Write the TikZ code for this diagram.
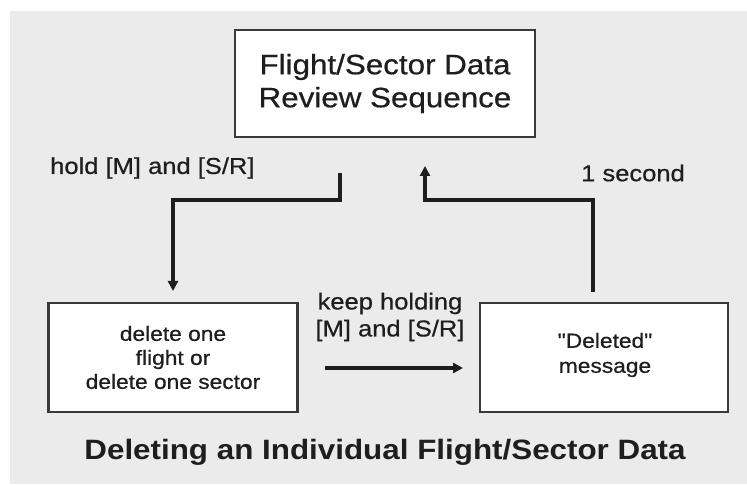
\documentclass[tikz,border=0pt]{standalone}
\usepackage{fontspec}
\setmainfont{Liberation Sans}
\newfontfamily\labfont[FakeStretch=1.11,FakeBold=0.6]{Liberation Sans}
\newfontfamily\bigfont[FakeStretch=1.12,FakeBold=0.6]{Liberation Sans}
\newfontfamily\titfont[FakeStretch=1.12]{Liberation Sans}
\usetikzlibrary{arrows.meta,calc}
\definecolor{bggray}{HTML}{EBEBEB}
\definecolor{ink}{HTML}{1E1E1E}
\definecolor{boxline}{HTML}{3A3A3A}
\tikzset{
  box/.style={draw=boxline, line width=2.2pt, fill=white, inner sep=0pt, align=center, text=ink},
  conn/.style={draw=ink, line width=3.4pt, -{Triangle[length=10pt,width=10pt]}},
  lab/.style={text=ink, align=center, inner sep=0pt, font=\labfont\fontsize{23}{27}\selectfont},
}
\begin{document}
\begin{tikzpicture}[x=1pt,y=-1pt]
\useasboundingbox (0,0) rectangle (747,486);
\fill[bggray] (10,11) rectangle (747,484);
% boxes
\node[box, minimum width=300pt, minimum height=107pt, font=\bigfont\fontsize{28}{33}\selectfont] (top) at (385,83.5) {Flight/Sector Data\\Review Sequence};
\node[box, minimum width=249pt, minimum height=109pt, font=\labfont\fontsize{20.5}{24}\selectfont] (left) at (173,357.5) {delete one\\flight or\\delete one sector};
\node[box, minimum width=248pt, minimum height=109pt] (right) at (604,357.5) {};
\node[lab, font=\labfont\fontsize{20.5}{25}\selectfont] (rtext) at (605,355) {"Deleted"\\message};
% labels
\node[lab, anchor=west] (holdlab) at (50,168) {hold [M] and [S/R]};
\node[lab, anchor=west] (seclab) at (581,173) {1 second};
\node[lab] (keeplab) at (390,317) {keep holding\\{}[M] and [S/R]};
\node[text=ink, inner sep=0pt, font=\titfont\bfseries\fontsize{28}{30}\selectfont] (title) at (385,452) {Deleting an Individual Flight/Sector Data};
% connector coordinates
\coordinate (a1) at (340,173);
\coordinate (a2) at (173,291);
\coordinate (b1) at (593,292);
\coordinate (b2) at (425,166);
\coordinate (c1) at (325,368);
\coordinate (c2) at (463,368);
\draw[conn] (a1) -- (340,200) -| (a2);
\draw[conn] (b1) -- (593,200) -| (b2);
\draw[conn] (c1) -- (c2);
\end{tikzpicture}
\end{document}
